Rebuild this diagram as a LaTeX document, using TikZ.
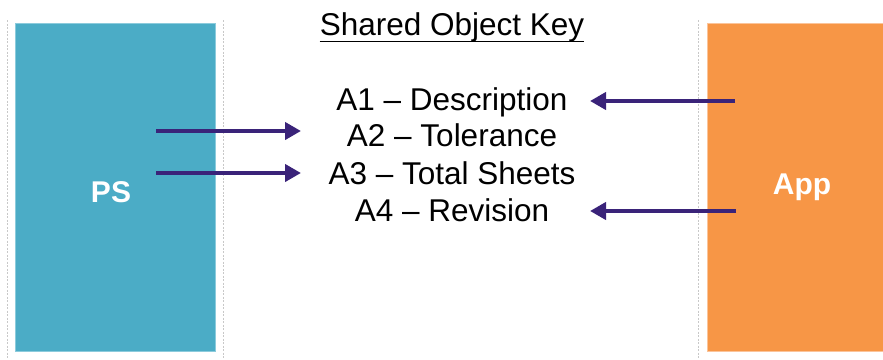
\documentclass[tikz,border=0pt]{standalone}
\usepackage{fontspec}
\setmainfont{Liberation Sans}
\usetikzlibrary{arrows.meta}
\definecolor{psblue}{HTML}{4BACC6}
\definecolor{psedge}{HTML}{8CCBDC}
\definecolor{apporange}{HTML}{F79646}
\definecolor{appedge}{HTML}{FBC49A}
\definecolor{flowpurple}{HTML}{3A2379}
\definecolor{guidegray}{HTML}{C8C8C8}
\tikzset{
  sysbox/.style={line width=0.8pt},
  guide/.style={guidegray, line width=0.6pt, dash pattern=on 2pt off 1.5pt},
  keytext/.style={anchor=base, inner sep=0pt, font=\fontsize{31.5}{37}\selectfont},
  systext/.style={anchor=base, inner sep=0pt, text=white, font=\fontsize{30}{36}\selectfont\bfseries},
  flow/.style={flowpurple, line width=4.6pt, -{Triangle[length=16pt,width=17pt]}}
}
\begin{document}
\begin{tikzpicture}[x=1pt,y=-1pt]
  \useasboundingbox (0,0) rectangle (883,359);
  % column guides
  \draw[guide] (7.5,20) -- (7.5,359);
  \draw[guide] (223,20) -- (223,359);
  \draw[guide] (698.5,20) -- (698.5,359);
  % the two systems
  \filldraw[sysbox, fill=psblue, draw=psedge] (15.5,23) rectangle (215.5,351);
  \filldraw[sysbox, fill=apporange, draw=appedge] (707,23) rectangle (884,351);
  \node[systext] (ps) at (111,202) {PS};
  \node[systext] (app) at (802,194) {App};
  % key of shared objects
  \node[keytext] (title) at (452,35) {Shared Object Key};
  \draw[line width=1.8pt] ([yshift=-6.5pt]title.base west) -- ([yshift=-6.5pt]title.base east);
  \node[keytext] (a1) at (452,110) {A1 – Description};
  \node[keytext] (a2) at (452,146) {A2 – Tolerance};
  \node[keytext] (a3) at (452,184) {A3 – Total Sheets};
  \node[keytext] (a4) at (452,221) {A4 – Revision};
  % arrow ends
  \coordinate (a1from) at (735,101);
  \coordinate (a1to) at (590,101);
  \coordinate (a2from) at (156,131);
  \coordinate (a2to) at (301,131);
  \coordinate (a3from) at (156,173);
  \coordinate (a3to) at (301,173);
  \coordinate (a4from) at (736,211);
  \coordinate (a4to) at (590,211);
  \draw[flow] (a1from) -- (a1to);
  \draw[flow] (a2from) -- (a2to);
  \draw[flow] (a3from) -- (a3to);
  \draw[flow] (a4from) -- (a4to);
\end{tikzpicture}
\end{document}
